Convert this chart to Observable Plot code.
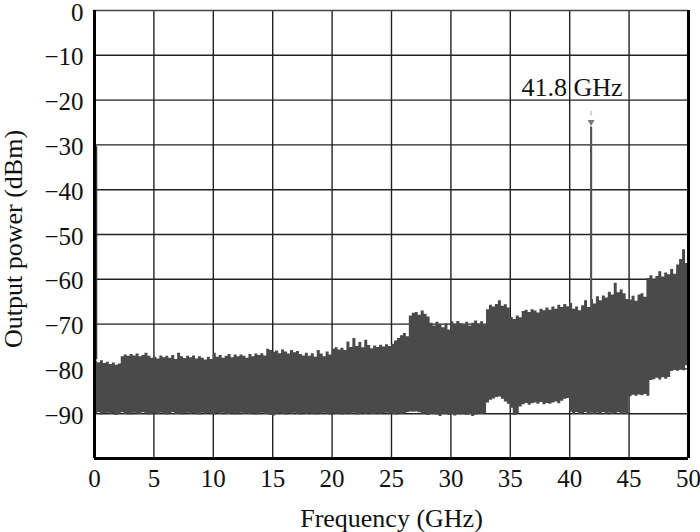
<!DOCTYPE html>
<html><head><meta charset="utf-8">
<script src="https://cdn.jsdelivr.net/npm/d3@7"></script>
<script src="https://cdn.jsdelivr.net/npm/@observablehq/plot@0.6"></script>
<style>body{margin:0;background:#fff}</style>
</head><body><div id="chart"></div>
<script>
// Frequency bins (GHz), start of each 0.25 GHz bin
const freq = [
 0,0.25,0.5,0.75, 1,1.25,1.5,1.75, 2,2.25,2.5,2.75, 3,3.25,3.5,3.75, 4,4.25,4.5,4.75,
 5,5.25,5.5,5.75, 6,6.25,6.5,6.75, 7,7.25,7.5,7.75, 8,8.25,8.5,8.75, 9,9.25,9.5,9.75,
 10,10.25,10.5,10.75, 11,11.25,11.5,11.75, 12,12.25,12.5,12.75, 13,13.25,13.5,13.75, 14,14.25,14.5,14.75,
 15,15.25,15.5,15.75, 16,16.25,16.5,16.75, 17,17.25,17.5,17.75, 18,18.25,18.5,18.75, 19,19.25,19.5,19.75,
 20,20.25,20.5,20.75, 21,21.25,21.5,21.75, 22,22.25,22.5,22.75, 23,23.25,23.5,23.75, 24,24.25,24.5,24.75,
 25,25.25,25.5,25.75, 26,26.25,26.5,26.75, 27,27.25,27.5,27.75, 28,28.25,28.5,28.75, 29,29.25,29.5,29.75,
 30,30.25,30.5,30.75, 31,31.25,31.5,31.75, 32,32.25,32.5,32.75, 33,33.25,33.5,33.75, 34,34.25,34.5,34.75,
 35,35.25,35.5,35.75, 36,36.25,36.5,36.75, 37,37.25,37.5,37.75, 38,38.25,38.5,38.75, 39,39.25,39.5,39.75,
 40,40.25,40.5,40.75, 41,41.25,41.5,41.75, 42,42.25,42.5,42.75, 43,43.25,43.5,43.75, 44,44.25,44.5,44.75,
 45,45.25,45.5,45.75, 46,46.25,46.5,46.75, 47,47.25,47.5,47.75, 48,48.25,48.5,48.75, 49,49.25,49.5,49.75
];
// Upper envelope of the noise band (dBm)
const upper = [
 -78.3,-78.6,-78.2,-78.8, -78.5,-79.0,-78.7,-79.2, -78.9,-77.3,-76.9,-77.2, -76.8,-77.1,-76.7,-77.3, -77.0,-76.5,-77.2,-77.6,
 -77.4,-77.8,-77.1,-77.5, -77.2,-77.6,-77.0,-77.9, -76.5,-77.3,-77.7,-77.2, -77.5,-77.1,-77.8,-77.3, -77.6,-78.0,-77.4,-77.9,
 -76.5,-77.4,-77.0,-77.6, -77.2,-76.8,-77.5,-76.9, -77.3,-76.9,-77.2,-77.6, -76.8,-77.3,-76.7,-77.0, -76.6,-77.1,-75.6,-75.9,
 -76.3,-76.0,-76.6,-75.8, -76.2,-76.7,-75.9,-76.4, -76.1,-76.8,-77.1,-76.5, -77.2,-76.6,-77.4,-75.9, -76.7,-77.3,-76.2,-76.9,
 -75.6,-75.3,-75.8,-75.4, -75.9,-74.0,-75.2,-73.2, -75.0,-74.1,-75.3,-73.6, -74.8,-75.5,-74.9,-75.2, -74.7,-75.1,-74.6,-75.0,
 -74.5,-73.8,-73.2,-72.6, -72.1,-72.8,-68.2,-67.6, -67.4,-68.0,-67.1,-67.8, -68.4,-69.8,-70.4,-69.6, -70.2,-70.8,-69.9,-71.3,
 -69.5,-70.1,-69.4,-69.9, -70.2,-69.6,-70.4,-69.8, -69.3,-70.0,-69.5,-70.3, -66.8,-65.8,-66.2,-65.6, -64.8,-66.0,-65.7,-66.4,
 -68.5,-69.0,-68.2,-68.6, -67.2,-66.9,-67.4,-66.8, -67.1,-67.5,-66.7,-67.0, -66.4,-66.9,-66.2,-66.7, -65.8,-66.3,-65.6,-66.1,
 -65.4,-66.7,-66.2,-67.0, -65.9,-64.8,-66.3,-64.5, -65.5,-63.9,-64.8,-63.7, -64.2,-62.9,-63.5,-60.9, -63.0,-62.4,-63.2,-64.5,
 -64.6,-63.8,-64.9,-63.5, -63.2,-64.0,-59.8,-59.2, -60.1,-59.4,-58.3,-59.5, -58.6,-59.0,-57.8,-58.9, -56.8,-55.6,-53.4,-56.5
];
// Lower envelope of the noise band (dBm)
const lower = [
 -90.1,-89.8,-90.3,-90.0, -89.9,-90.2,-90.0,-90.4, -90.1,-89.8,-90.2,-90.0, -90.3,-89.9,-90.1,-90.2, -89.8,-90.0,-90.3,-90.1,
 -90.0,-90.2,-89.9,-90.1, -90.3,-90.0,-89.8,-90.2, -90.1,-90.3,-90.0,-89.9, -90.2,-90.0,-90.1,-90.3, -89.9,-90.2,-90.0,-90.1,
 -90.3,-90.0,-90.2,-89.9, -90.1,-90.2,-90.0,-90.3, -90.0,-89.9,-90.2,-90.1, -90.2,-90.0,-90.3,-90.1, -89.9,-90.2,-90.1,-90.4,
 -90.5,-90.1,-90.0,-90.2, -90.3,-90.0,-90.2,-89.9, -90.1,-90.3,-90.0,-90.2, -90.0,-90.1,-90.3,-90.0, -90.2,-89.9,-90.1,-90.3,
 -90.0,-90.2,-90.1,-90.3, -90.1,-90.0,-90.2,-89.9, -90.3,-90.1,-90.0,-90.2, -90.0,-90.2,-90.1,-90.0, -90.2,-90.0,-89.9,-90.1,
 -90.1,-90.3,-90.0,-90.2, -90.0,-89.8,-89.6,-89.7, -89.6,-89.8,-90.1,-90.0, -90.4,-90.2,-90.1,-90.3, -90.6,-90.2,-90.1,-90.4,
 -90.2,-90.5,-90.1,-90.3, -90.1,-90.4,-90.2,-90.6, -90.3,-90.1,-90.2,-90.0, -87.6,-87.0,-86.7,-86.4, -86.3,-86.8,-87.4,-87.9,
 -88.8,-90.4,-90.0,-88.5, -88.0,-87.7,-88.1,-87.8, -87.6,-87.9,-87.5,-88.0, -87.7,-87.9,-87.6,-87.4, -87.8,-87.2,-86.8,-86.6,
 -89.7,-90.1,-89.8,-90.2, -90.0,-89.8,-90.1,-89.9, -90.2,-89.9,-90.0,-89.8, -90.1,-89.9,-90.2,-90.0, -89.8,-90.1,-89.9,-90.2,
 -86.2,-85.9,-86.1,-85.8, -86.0,-85.7,-86.1,-82.6, -82.4,-82.1,-82.5,-82.0, -82.3,-81.9,-80.6,-80.3, -80.5,-80.2,-80.4,-79.3
];
const xTicks = [0,5,10,15,20,25,30,35,40,45,50];
const yTicks = [0,-10,-20,-30,-40,-50,-60,-70,-80,-90];
const peak = [{f: 41.8, top: -26.0, base: -67.0, marker: -24.9, num: -22.8}];
const edge = [{f: 0.15, top: -30.4, base: -78.0}];
const peakLabel = [{f: 40.2, p: -17.2, text: "41.8 GHz"}];
const xTitle = [{f: 25, p: -100, text: "Frequency (GHz)"}];
const yTitle = [{f: 0, p: -51, text: "Output power (dBm)"}];

const band = freq.map((f, i) => ({f, hi: upper[i], lo: lower[i]}));
band.push({f: 50, hi: upper[upper.length - 1], lo: lower[lower.length - 1]});

const serif = "'Liberation Serif', 'Times New Roman', serif";
const chart = Plot.plot({
  width: 700, height: 532,
  marginLeft: 94, marginRight: 12, marginTop: 10, marginBottom: 74,
  style: {fontFamily: serif, fontSize: "25px", background: "#fff", color: "#000", overflow: "visible"},
  x: {domain: [0, 50]},
  y: {domain: [-100, 0]},
  marks: [
    Plot.gridX(xTicks.slice(1, -1), {stroke: "#222", strokeOpacity: 1, strokeWidth: 1.4}),
    Plot.gridY(yTicks.slice(1), {stroke: "#222", strokeOpacity: 1, strokeWidth: 1.4}),
    Plot.areaY(band, {x: "f", y1: "lo", y2: "hi", curve: "step-after", fill: "#4a4a4a"}),
    Plot.ruleX(edge, {x: "f", y1: "base", y2: "top", stroke: "#333", strokeWidth: 2}),
    Plot.ruleX(peak, {x: "f", y1: "base", y2: "top", stroke: "#555", strokeWidth: 2.2}),
    Plot.dot(peak, {x: "f", y: "marker", symbol: "triangle", r: 2.6, rotate: 180, fill: "#777", stroke: "none"}),
    Plot.text(peak, {x: "f", y: "num", text: () => "1", fontSize: 7, fill: "#888"}),
    Plot.ruleY([0], {stroke: "#444", strokeWidth: 1.5}),
    Plot.ruleY([-100], {stroke: "#000", strokeWidth: 3}),
    Plot.ruleX([0], {stroke: "#000", strokeWidth: 3}),
    Plot.ruleX([50], {stroke: "#000", strokeWidth: 3}),
    Plot.axisX(xTicks, {tickSize: 0, tickPadding: 11, label: null, fontSize: 25, fill: "#111"}),
    Plot.axisY(yTicks, {tickSize: 0, tickPadding: 11, label: null, fontSize: 25, fill: "#111", dy: 2}),
    Plot.text(xTitle, {x: "f", y: "p", text: "text", dy: 60, fontSize: 26, fill: "#111"}),
    Plot.text(yTitle, {x: "f", y: "p", text: "text", dx: -81, rotate: -90, fontSize: 26, fill: "#111"}),
    Plot.text(peakLabel, {x: "f", y: "p", text: "text", fontSize: 26, fill: "#111"})
  ]
});
document.getElementById("chart").appendChild(chart);
</script>
</body></html>
